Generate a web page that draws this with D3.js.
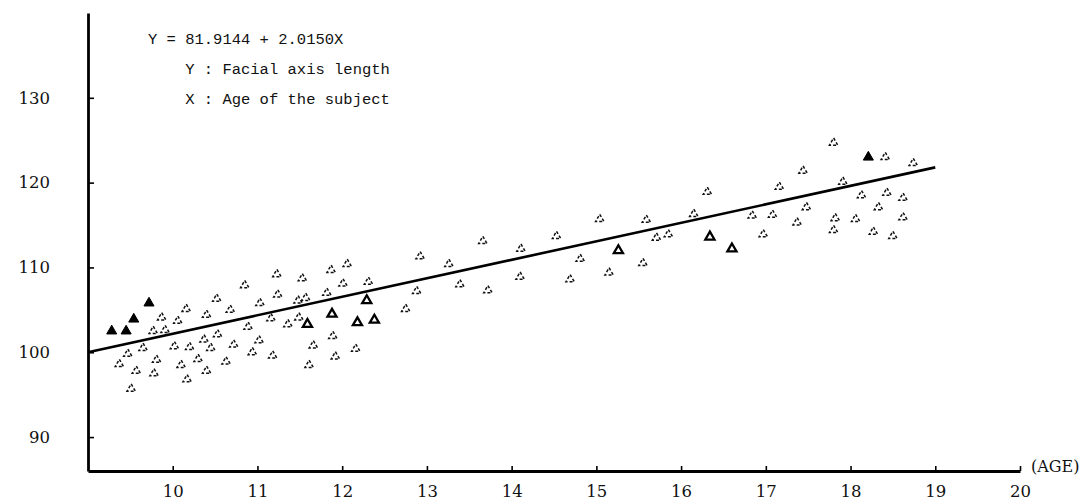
<!DOCTYPE html>
<html>
<head>
<meta charset="utf-8">
<script src="https://cdn.jsdelivr.net/npm/d3@7"></script>
<style>
  body { margin: 0; background: #fff; }
  svg { display: block; }
  .tick text { font-family: "DejaVu Serif", serif; font-size: 16.5px; fill: #111; }
  .note { font-family: "Liberation Mono", monospace; font-size: 15.5px; fill: #111; }
</style>
</head>
<body>
<div id="container"></div>
<script>
// regression line, as printed on the chart
var lineAges = [9.0, 19.0];
var lineValues = [100.0, 121.8];

var xTicks = [10, 11, 12, 13, 14, 15, 16, 17, 18, 19, 20];
var yTicks = [90, 100, 110, 120, 130];

// solid black triangles  [age, length]
var filledPoints = [
    [9.72, 105.8], [9.54, 103.9], [9.28, 102.5], [9.45, 102.5], [18.21, 123.0]
];

// heavy open triangles
var boldPoints = [
    [11.59, 103.3], [11.88, 104.5], [12.18, 103.5], [12.38, 103.8],
    [15.26, 112.0], [16.34, 113.6], [16.60, 112.2], [12.29, 106.1]
];

// faint open triangles
var faintPoints = [
    [9.77, 102.5], [9.91, 102.6], [9.87, 104.1], [10.06, 103.7], [10.16, 105.1],
    [10.40, 104.4], [10.52, 106.3], [10.68, 105.0], [9.47, 99.8], [9.65, 100.5],
    [9.37, 98.6], [9.57, 97.8], [9.78, 97.5], [9.81, 99.1], [10.02, 100.7],
    [10.20, 100.6], [10.37, 101.5], [10.53, 102.1], [10.45, 100.5], [10.10, 98.5],
    [10.30, 99.2], [10.40, 97.8], [10.17, 96.8], [10.63, 98.9], [9.51, 95.7],
    [12.06, 110.4], [11.87, 109.7], [11.23, 109.2], [11.53, 108.7], [10.85, 107.9],
    [12.31, 108.3], [12.01, 108.1], [11.24, 106.8], [11.03, 105.8], [11.48, 106.1],
    [11.57, 106.4], [11.82, 107.0], [11.16, 104.0], [11.36, 103.3], [11.49, 104.1],
    [10.89, 103.0], [10.72, 100.9], [11.02, 101.4], [10.94, 100.0], [11.18, 99.6],
    [11.66, 100.8], [11.89, 101.9], [11.92, 99.5], [12.16, 100.4], [11.61, 98.5],
    [12.92, 111.3], [13.26, 110.4], [13.66, 113.1], [14.11, 112.2], [14.53, 113.7],
    [12.88, 107.2], [12.75, 105.1], [13.39, 108.0], [13.72, 107.3], [14.10, 108.9],
    [15.04, 115.7], [15.59, 115.6], [16.15, 116.3], [16.31, 118.9], [15.71, 113.5],
    [15.85, 113.9], [14.81, 111.0], [15.55, 110.5], [15.15, 109.4], [14.69, 108.6],
    [17.44, 121.4], [17.16, 119.5], [17.48, 117.1], [17.37, 115.3], [16.84, 116.1],
    [17.08, 116.2], [16.97, 113.9], [18.41, 123.0], [18.74, 122.3], [17.91, 120.1],
    [18.13, 118.5], [18.43, 118.8], [18.62, 118.2], [18.33, 117.1], [17.82, 115.8],
    [18.06, 115.7], [18.62, 115.9], [17.80, 114.4], [18.27, 114.2], [18.50, 113.7],
    [17.80, 124.7]
];

var noteLines = [
    "Y = 81.9144 + 2.0150X",
    "    Y : Facial axis length",
    "    X : Age of the subject"
];

var width = 1087, height = 501;

var svg = d3.select("#container").append("svg")
    .attr("width", width)
    .attr("height", height);

var x = d3.scaleLinear().domain([9, 20]).range([88, 1020]);
var y = d3.scaleLinear().domain([86, 140]).range([471, 13]);

// axes
var xAxis = svg.append("g")
    .attr("transform", "translate(0," + y(86) + ")")
    .call(d3.axisBottom(x).tickValues(xTicks).tickFormat(d3.format("d"))
        .tickSize(-5).tickSizeOuter(0).tickPadding(14));

var yAxis = svg.append("g")
    .attr("transform", "translate(" + x(9) + ",0)")
    .call(d3.axisLeft(y).tickValues(yTicks).tickFormat(d3.format("d"))
        .tickSize(-6).tickSizeOuter(0).tickPadding(38));

svg.selectAll(".domain").attr("stroke", "#000").attr("stroke-width", 2.8);
svg.selectAll(".tick line").attr("stroke", "#000").attr("stroke-width", 1.6);

svg.append("text")
    .attr("x", x(20) + 11)
    .attr("y", y(86) + 1)
    .attr("font-family", "DejaVu Serif, serif")
    .attr("font-size", 16)
    .attr("fill", "#111")
    .text("(AGE)");

// regression line
svg.append("path")
    .datum(d3.zip(lineAges, lineValues))
    .attr("fill", "none")
    .attr("stroke", "#000")
    .attr("stroke-width", 2.6)
    .attr("d", d3.line().x(function (d) { return x(d[0]); }).y(function (d) { return y(d[1]); }));

// markers
var tri = d3.symbol().type(d3.symbolTriangle);

svg.append("g").selectAll("path")
    .data(faintPoints).join("path")
    .attr("transform", function (d) { return "translate(" + x(d[0]) + "," + y(d[1]) + ")"; })
    .attr("d", tri.size(30))
    .attr("fill", "none")
    .attr("stroke", "#111")
    .attr("stroke-width", 1.5)
    .attr("stroke-dasharray", "3,2");

svg.append("g").selectAll("path")
    .data(boldPoints).join("path")
    .attr("transform", function (d) { return "translate(" + x(d[0]) + "," + y(d[1]) + ")"; })
    .attr("d", tri.size(36))
    .attr("fill", "none")
    .attr("stroke", "#000")
    .attr("stroke-width", 2.3);

svg.append("g").selectAll("path")
    .data(filledPoints).join("path")
    .attr("transform", function (d) { return "translate(" + x(d[0]) + "," + y(d[1]) + ")"; })
    .attr("d", tri.size(44))
    .attr("fill", "#000")
    .attr("stroke", "#000")
    .attr("stroke-width", 1);

// equation note
svg.append("g").selectAll("text")
    .data(noteLines).join("text")
    .attr("class", "note")
    .attr("x", 148)
    .attr("y", function (d, i) { return 44 + i * 30; })
    .attr("xml:space", "preserve")
    .style("white-space", "pre")
    .text(function (d) { return d; });
</script>
</body>
</html>
